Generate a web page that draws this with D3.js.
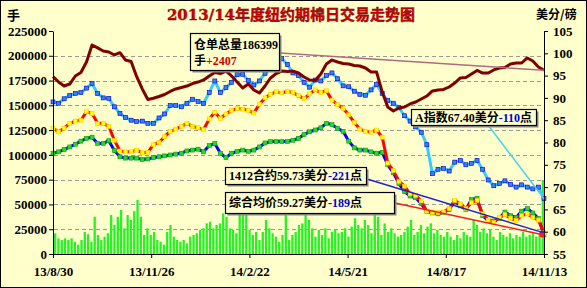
<!DOCTYPE html>
<html>
<head>
<meta charset="utf-8">
<script src="https://cdn.jsdelivr.net/npm/d3@7"></script>
<style>
  html, body { margin: 0; padding: 0; background: #ffffcc; }
  svg { display: block; }
</style>
</head>
<body>
<svg id="chart" width="587" height="288"></svg>
<script>
// Warehouse stocks (lots), left axis; sampled every 5 days from 13/8/30
const stockLots = [
  178900, 173500, 169500, 171500, 179600, 183100, 193700, 210900, 207900, 204800,
  203800, 200800, 203100, 195700, 194200, 178900, 166500, 155900, 157100, 158900,
  160900, 164000, 166500, 168000, 169500, 172000, 173500, 175600, 179600, 183100,
  182100, 184600, 179600, 173500, 167500, 171500, 165500, 162400, 169500, 177600,
  182100, 184600, 184100, 184600, 182600, 178600, 175600, 175100, 181600, 191700,
  195700, 193700, 192200, 191700, 190200, 189700, 187700, 183600, 183600, 163500,
  148300, 144300, 147300, 148300, 151400, 153400, 156400, 159400, 164500, 165500,
  166000, 168500, 172500, 177600, 178100, 181600, 185200, 182600, 182600, 185700,
  187700, 188200, 191700, 192700, 192700, 197800, 194700, 188700, 185399
];

// Cotlook A index (cents/lb), right axis
const indexA = [
  89.1, 88.8, 89.8, 90.5, 91.0, 91.2, 92.2, 93.2, 91.0, 90.0,
  89.9, 88.0, 86.5, 85.6, 85.0, 84.7, 84.8, 84.3, 84.3, 85.5,
  86.4, 88.3, 88.3, 88.0, 88.8, 89.7, 89.2, 88.8, 91.2, 93.8,
  91.2, 92.3, 93.5, 95.2, 95.3, 93.9, 92.9, 93.8, 95.5, 96.5,
  97.8, 98.8, 97.5, 95.6, 95.0, 93.5, 92.4, 94.0, 93.8, 95.0,
  95.6, 94.3, 92.7, 92.5, 91.5, 90.8, 90.6, 91.8, 93.0, 91.0,
  89.4, 88.8, 87.8, 86.0, 84.8, 83.5, 82.3, 79.5, 73.0, 74.0,
  74.2, 73.6, 75.6, 76.0, 75.0, 75.3, 76.0, 74.0, 71.6, 70.3,
  70.8, 71.4, 70.6, 70.0, 70.5, 70.0, 69.6, 70.0, 67.40
];

// 1412 contract (cents/lb)
const futures1412 = [
  83.2, 82.4, 83.2, 84.3, 84.8, 85.0, 86.9, 86.5, 84.3, 84.3,
  83.6, 80.5, 78.1, 77.9, 77.9, 78.3, 77.7, 77.8, 79.5, 80.0,
  81.3, 82.5, 83.0, 83.6, 84.3, 83.6, 83.3, 82.9, 85.3, 86.8,
  85.4, 86.4, 87.2, 87.6, 87.5, 87.2, 86.6, 88.6, 90.0, 90.8,
  91.4, 91.1, 91.5, 91.2, 90.5, 89.8, 90.9, 91.8, 91.2, 91.6,
  89.5, 88.5, 87.6, 86.2, 84.5, 83.0, 82.5, 82.3, 82.8, 81.2,
  75.4, 73.7, 71.3, 70.2, 68.5, 68.1, 66.9, 64.6, 64.3, 64.3,
  64.4, 65.2, 67.0, 66.2, 65.2, 66.5, 67.0, 64.0, 62.6, 62.1,
  63.2, 63.8, 63.0, 62.5, 63.6, 64.0, 63.2, 62.6, 59.73
];

// composite average price (cents/lb)
const compositeAvg = [
  77.6, 77.9, 78.4, 79.0, 79.6, 80.3, 80.9, 81.2, 79.8, 79.8,
  80.4, 78.2, 76.8, 76.5, 76.5, 76.5, 76.2, 76.3, 76.6, 76.8,
  77.0, 77.2, 77.4, 77.6, 78.1, 78.3, 78.5, 77.9, 79.3, 79.8,
  77.6, 76.6, 77.6, 78.0, 78.3, 78.0, 78.3, 79.0, 79.9, 80.2,
  80.2, 80.2, 80.2, 80.5, 80.9, 81.8, 82.4, 82.8, 83.3, 84.3,
  84.0, 83.2, 82.5, 80.3, 78.8, 78.3, 78.3, 77.9, 77.6, 77.8,
  75.0, 73.2, 70.8, 69.0, 68.0, 67.6, 66.3, 64.5, 64.2, 64.0,
  64.3, 65.0, 66.8, 65.8, 65.0, 67.2, 67.5, 63.6, 62.5, 62.4,
  63.0, 64.4, 63.6, 63.2, 64.6, 65.2, 64.2, 63.0, 59.27
];

// daily volume (lots), left axis
const volume = [
  20900, 15800, 14100, 15800, 14100, 15800, 12400, 9400, 14100, 22200,
  20000, 12400, 37600, 19200, 14100, 17500, 20900, 39300, 29300, 37600,
  44400, 25900, 39300, 34300, 43300, 54500, 37600, 19200, 25900, 19200,
  22200, 14100, 12400, 9400, 22200, 29300, 17500, 14100, 12400, 14100,
  10700, 17500, 19200, 20900, 24200, 25900, 30900, 32600, 25900, 29300,
  30900, 41100, 37600, 25900, 24200, 20900, 50900, 48400, 41100, 24200,
  19200, 22200, 14100, 22200, 34300, 25900, 20900, 17500, 12400, 19200,
  41100, 14100, 19200, 22200, 29300,
  30900, 41100, 34300, 25900, 17500, 24200, 19200, 25900, 15800, 22200,
  24200, 20900, 22200, 25900, 17500, 27600, 36000, 29300, 25900, 34300,
  29300, 20900, 41100, 37600, 19200, 30900, 22200, 25900, 20900, 17500,
  19200, 22200, 27600, 34300, 19200, 22200, 29300, 20900, 27600, 30900,
  20900, 24200, 19200, 17500, 22200, 17500, 14100, 19200, 15800, 22200,
  19200, 17500, 34300, 29300, 22200, 25900, 20900, 24200, 17500, 14100,
  22200, 19200, 17500, 20900, 15800, 19200, 17500, 22200, 17500, 19200,
  20900, 17500, 19200, 74700
];

const tickLabels = ['13/8/30', '13/11/26', '14/2/22', '14/5/21', '14/8/17', '14/11/13'];
const leftTicks = [0, 25000, 50000, 75000, 100000, 125000, 150000, 175000, 200000, 225000];
const rightTicks = [55, 60, 65, 70, 75, 80, 85, 90, 95, 100, 105];

const FONT = '"Liberation Serif", "Noto Sans CJK SC", serif';
const CJK = '"Noto Sans CJK SC", sans-serif';

const svg = d3.select('#chart');

svg.append('rect')
  .attr('x', 0.5).attr('y', 0.5)
  .attr('width', 586).attr('height', 287)
  .attr('fill', '#ffffcc')
  .attr('stroke', '#000');

const parseTick = d3.timeParse('%y/%m/%d');
const tickDates = tickLabels.map(parseTick);
const dates = stockLots.map((d, i) => d3.timeDay.offset(tickDates[0], i * 5));

const x = d3.scaleTime()
  .domain([tickDates[0], tickDates[tickDates.length - 1]])
  .range([53, 544]);
const yLeft = d3.scaleLinear().domain([0, 225000]).range([254, 31]);
const yRight = d3.scaleLinear().domain([55, 105]).range([254, 31]);

// grid
svg.append('g')
  .selectAll('line')
  .data(leftTicks.filter(t => t > 0 && t < 225000))
  .join('line')
    .attr('x1', 54).attr('x2', 544)
    .attr('y1', d => Math.round(yLeft(d)) + 0.5)
    .attr('y2', d => Math.round(yLeft(d)) + 0.5)
    .attr('stroke', '#9a9a9a')
    .attr('stroke-dasharray', '4,3');

// volume bars
const xBar = d3.scaleBand()
  .domain(d3.range(volume.length))
  .range([54, 544])
  .paddingInner(0.3);

svg.append('g')
  .selectAll('rect')
  .data(volume)
  .join('rect')
    .attr('x', (d, i) => xBar(i))
    .attr('width', xBar.bandwidth())
    .attr('y', d => yLeft(d))
    .attr('height', d => yLeft(0) - yLeft(d))
    .attr('fill', '#2bef2b');

// price series: line colour + marker colour
const series = [
  { values: compositeAvg, line: '#0000ff', fill: '#22dd22', stroke: '#119911' },
  { values: futures1412, line: '#ff0000', fill: '#ffff00', stroke: '#ffcc00' },
  { values: indexA, line: '#33ccff', fill: '#3d7bff', stroke: '#0000cc' }
];

series.forEach(s => {
  const line = d3.line()
    .x((d, i) => x(dates[i]))
    .y(d => yRight(d));

  const g = svg.append('g');
  g.append('path')
    .attr('d', line(s.values))
    .attr('fill', 'none')
    .attr('stroke', s.line)
    .attr('stroke-width', 3)
    .attr('stroke-linejoin', 'round');

  g.selectAll('rect')
    .data(s.values)
    .join('rect')
      .attr('x', (d, i) => x(dates[i]) - 2)
      .attr('y', d => yRight(d) - 2)
      .attr('width', 4)
      .attr('height', 4)
      .attr('fill', s.fill)
      .attr('stroke', s.stroke)
      .attr('stroke-width', 0.6);
});

// warehouse stocks
svg.append('path')
  .attr('d', d3.line()
    .x((d, i) => x(dates[i]))
    .y(d => yLeft(d))(stockLots))
  .attr('fill', 'none')
  .attr('stroke', '#800000')
  .attr('stroke-width', 3)
  .attr('stroke-linejoin', 'round');

// axes
const styleAxis = g => {
  g.attr('font-family', FONT)
    .attr('font-size', 13)
    .attr('font-weight', 'bold');
  g.selectAll('.domain, .tick line').attr('stroke', '#000');
  g.selectAll('text').attr('fill', '#000');
};

svg.append('g')
  .attr('transform', 'translate(53,0)')
  .call(d3.axisLeft(yLeft)
    .tickValues(leftTicks)
    .tickFormat(d3.format('d'))
    .tickSize(4)
    .tickSizeOuter(0)
    .tickPadding(2))
  .call(styleAxis);

svg.append('g')
  .attr('transform', 'translate(544,0)')
  .call(d3.axisRight(yRight)
    .tickValues(rightTicks)
    .tickSize(4)
    .tickSizeOuter(0)
    .tickPadding(5))
  .call(styleAxis);

svg.append('g')
  .attr('transform', 'translate(0,254)')
  .call(d3.axisBottom(x)
    .tickValues(tickDates)
    .tickFormat((d, i) => tickLabels[i])
    .tickSize(4)
    .tickSizeOuter(0)
    .tickPadding(9))
  .call(styleAxis);

// titles
svg.append('text')
  .attr('x', 291).attr('y', 20)
  .attr('text-anchor', 'middle')
  .attr('font-family', '"DejaVu Serif", "Noto Sans CJK SC", serif')
  .attr('font-weight', 'bold')
  .attr('font-size', 15)
  .attr('fill', '#d40000')
  .attr('stroke', '#700000')
  .attr('stroke-width', 0.4)
  .text('2013/14年度纽约期棉日交易走势图');

svg.append('text')
  .attr('x', 7).attr('y', 20)
  .attr('font-family', CJK)
  .attr('font-weight', 'bold')
  .attr('font-size', 13)
  .text('手');

svg.append('text')
  .attr('x', 536).attr('y', 19)
  .attr('font-family', CJK)
  .attr('font-weight', 'bold')
  .attr('font-size', 12)
  .text('美分/磅');

// callouts
const last = dates.length - 1;
const notes = [
  {
    box: [190, 33, 89, 37], from: [280, 53], color: '#b06a88',
    to: [x(dates[last]), yLeft(stockLots[last])],
    lines: [[['仓单总量186399', '#000']], [['手', '#000'], ['+2407', '#cc0000']]]
  },
  {
    box: [411, 109, 125, 16], from: [488, 125], color: '#44d4f0',
    to: [x(dates[last]), yRight(indexA[last])],
    lines: [[['A指数67.40美分', '#000'], ['-110', '#0000cc'], ['点', '#000']]]
  },
  {
    box: [225, 167, 141, 17], from: [367, 179], color: '#2222cc', dot: true,
    to: [x(dates[last]), yRight(futures1412[last])],
    lines: [[['1412合约59.73美分', '#000'], ['-221', '#0000cc'], ['点', '#000']]]
  },
  {
    box: [225, 192, 169, 21], from: [395, 203], color: '#ee2020', dot: true,
    to: [x(dates[last]), yRight(compositeAvg[last])],
    lines: [[['综合均价59.27美分', '#000'], ['-189', '#0000cc'], ['点', '#000']]]
  }
];

notes.forEach(n => {
  svg.append('line')
    .attr('x1', n.from[0]).attr('y1', n.from[1])
    .attr('x2', n.to[0]).attr('y2', n.to[1])
    .attr('stroke', n.color)
    .attr('stroke-width', 1.5);
  if (n.dot) {
    svg.append('circle')
      .attr('cx', n.to[0] - 2).attr('cy', n.to[1])
      .attr('r', 2.5)
      .attr('fill', n.color);
  }

  const [bx, by, bw, bh] = n.box;
  svg.append('rect')
    .attr('x', bx + 2.5).attr('y', by + 2.5)
    .attr('width', bw).attr('height', bh)
    .attr('fill', '#8a8a8a');
  svg.append('rect')
    .attr('x', bx + 0.5).attr('y', by + 0.5)
    .attr('width', bw).attr('height', bh)
    .attr('fill', '#ffffcc')
    .attr('stroke', '#000')
    .attr('stroke-width', 1.2);

  const lineH = n.lines.length > 1 ? 16 : 0;
  const base = n.lines.length > 1 ? by + 16 : by + bh / 2 + 4.5;
  n.lines.forEach((segs, li) => {
    const t = svg.append('text')
      .attr('x', bx + 4)
      .attr('y', base + li * lineH)
      .attr('font-family', FONT)
      .attr('font-weight', 'bold')
      .attr('font-size', 12);
    segs.forEach(([s, c]) => t.append('tspan').attr('fill', c).text(s));
  });
});
</script>
</body>
</html>
